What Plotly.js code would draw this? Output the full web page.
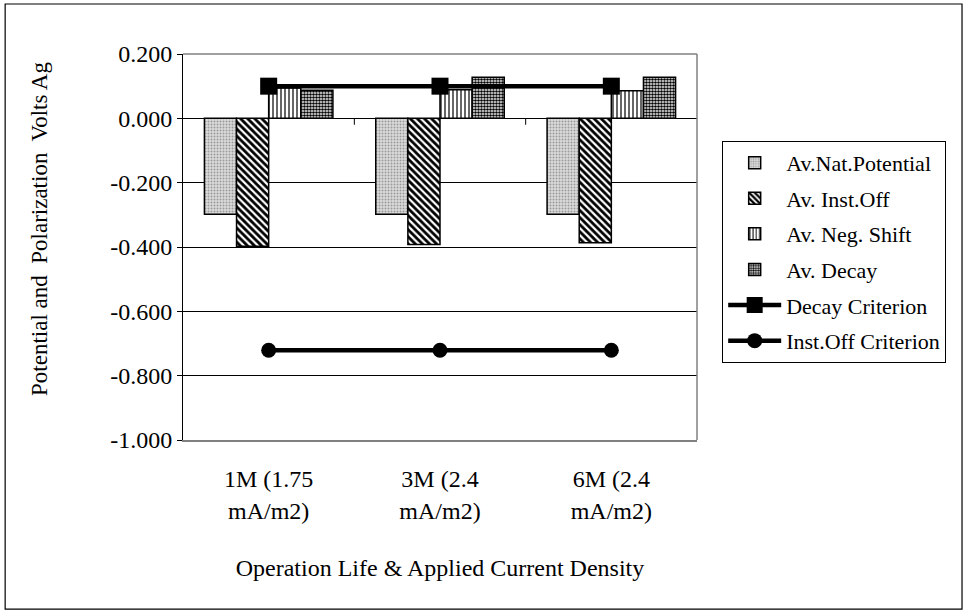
<!DOCTYPE html>
<html><head><meta charset="utf-8">
<script src="https://cdn.plot.ly/plotly-3.0.1.min.js"></script>
<style>html,body{margin:0;padding:0;background:#fff}#chart{width:967px;height:614px}</style>
</head><body><div id="chart"></div>
<script>
const categories = ["1M (1.75<br>mA/m2)", "3M (2.4<br>mA/m2)", "6M (2.4<br>mA/m2)"];
const natPotential = [-0.298, -0.298, -0.298];
const instOff = [-0.398, -0.392, -0.387];
const negShift = [0.094, 0.089, 0.086];
const decay = [0.087, 0.128, 0.128];
const decayCriterion = [0.100, 0.100, 0.100];
const instOffCriterion = [-0.721, -0.721, -0.721];
const yTicks = [0.2, 0.0, -0.2, -0.4, -0.6, -0.8, -1.0];
const yTitle = 'Potential and\u00a0 Polarization\u00a0 Volts Ag';
const xTitle = 'Operation Life &amp; Applied Current Density';

const font = "Liberation Serif, Times New Roman, serif";
const bar = (name, y, pattern, group) => ({
  type: 'bar', name, x: categories, y, legendgroup: group,
  marker: {color: pattern.bg, line: {color: '#000', width: 1.5},
    pattern: {shape: pattern.shape, fgcolor: pattern.fg, bgcolor: pattern.bg, size: pattern.size, solidity: pattern.sol, fillmode: 'replace'}}
});
const traces = [
  bar('Av.Nat.Potential', natPotential, {shape: '.', fg: '#9a9a9a', bg: '#dcdcdc', size: 3, sol: 0.35}, 'a'),
  bar('Av. Inst.Off', instOff, {shape: '\\', fg: '#000', bg: '#fff', size: 5, sol: 0.55}, 'b'),
  bar('Av. Neg. Shift', negShift, {shape: '|', fg: '#000', bg: '#fff', size: 4, sol: 0.3}, 'c'),
  bar('Av. Decay', decay, {shape: '.', fg: '#000', bg: '#fff', size: 3, sol: 0.6}, 'd'),
  {type: 'scatter', mode: 'lines+markers', name: 'Decay Criterion', x: categories, y: decayCriterion, legendgroup: 'e',
   line: {color: '#000', width: 4.5}, marker: {symbol: 'square', size: 17, color: '#000'}},
  {type: 'scatter', mode: 'lines+markers', name: 'Inst.Off Criterion', x: categories, y: instOffCriterion, legendgroup: 'f',
   line: {color: '#000', width: 4.5}, marker: {symbol: 'circle', size: 15, color: '#000'}}
];

const n = categories.length;
const dividers = [];
for (let i = 0; i < n - 1; i++) {
  dividers.push({type: 'line', xref: 'x', yref: 'y', x0: i + 0.5, x1: i + 0.5, y0: 0, y1: -0.02, line: {color: '#000', width: 1}});
}

const layout = {
  width: 967, height: 614,
  margin: {l: 183, r: 270, t: 54, b: 174},
  paper_bgcolor: '#fff', plot_bgcolor: '#fff',
  font: {family: font, color: '#000', size: 22},
  barmode: 'group', bargap: 0.25, bargroupgap: 0,
  showlegend: true,
  legend: {x: 1.049, y: 0.775, xanchor: 'left', yanchor: 'top', bordercolor: '#000', borderwidth: 1, bgcolor: '#fff',
    font: {family: font, size: 22}, traceorder: 'grouped', tracegroupgap: 4, itemwidth: 53},
  xaxis: {type: 'category', showgrid: false, showline: true, linecolor: '#808080', linewidth: 1.5, mirror: false,
    ticks: '', tickfont: {size: 24, family: font}, ticklabelstandoff: 17,
    title: {text: xTitle, font: {size: 24, family: font}, standoff: 36}},
  yaxis: {range: [-1.0, 0.2], tickvals: yTicks, ticktext: yTicks.map(v => v.toFixed(3)),
    showgrid: true, gridcolor: '#000', gridwidth: 1, zeroline: true, zerolinecolor: '#000', zerolinewidth: 1,
    showline: true, linecolor: '#000', linewidth: 1, ticks: 'outside', ticklen: 5, tickcolor: '#000',
    tickfont: {size: 24, family: font}},
  annotations: [
    {text: yTitle, xref: 'paper', yref: 'paper', x: -0.278, y: 0.547, xanchor: 'center', yanchor: 'middle',
     textangle: -90, showarrow: false, font: {size: 23, family: font}}
  ],
  shapes: dividers.concat([
    {type: 'line', xref: 'paper', yref: 'paper', x0: 1, x1: 1, y0: 0, y1: 1, line: {color: '#808080', width: 1.5}},
    {type: 'line', xref: 'paper', yref: 'paper', x0: 0, x1: 1, y0: 1, y1: 1, line: {color: '#808080', width: 1.5}},
    {type: 'rect', xref: 'paper', yref: 'paper', x0: -0.346, x1: 1.5156, y0: -0.438, y1: 1.1295, line: {color: '#000', width: 1.2}, layer: 'below'}
  ])
};
Plotly.newPlot('chart', traces, layout, {displayModeBar: false, staticPlot: true});
</script></body></html>
